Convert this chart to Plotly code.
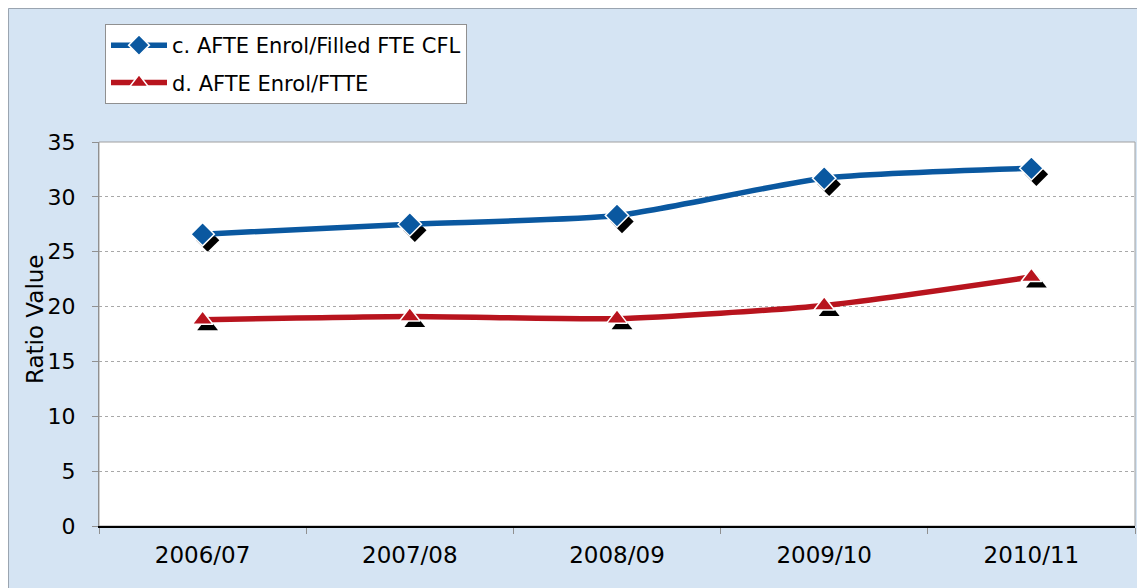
import plotly.graph_objects as go

categories = ["2006/07", "2007/08", "2008/09", "2009/10", "2010/11"]
filled_fte_cfl = [26.6, 27.5, 28.3, 31.7, 32.6]
fte_ratio = [18.8, 19.1, 18.9, 20.1, 22.7]
series_names = ["c. AFTE Enrol/Filled FTE CFL", "d. AFTE Enrol/FTTE"]
y_ticks = [0, 5, 10, 15, 20, 25, 30, 35]
y_title = "Ratio Value"

BLUE = "#0a58a0"
RED = "#b8141e"
FONT = "DejaVu Sans, Arial, sans-serif"

W_PLOT = 1041
H_PLOT = 390
SX, SY = 5, 6
DX = SX / W_PLOT
DY = SY / H_PLOT
PAPER_W, PAPER_H = 1137, 580
ML, MT = 91, 134

fig = go.Figure()

# shadows (subplot xy, drawn first)
for vals, sym in [(filled_fte_cfl, "diamond"), (fte_ratio, "triangle-up")]:
    fig.add_trace(go.Scatter(
        x=categories, y=vals, mode="markers", xaxis="x", yaxis="y",
        marker=dict(symbol=sym, size=18, color="black"),
        showlegend=False, hoverinfo="skip"))

fig.add_trace(go.Scatter(
    x=categories, y=filled_fte_cfl, name=series_names[0], mode="lines+markers",
    xaxis="x2", yaxis="y2", legendgroup="a",
    line=dict(color=BLUE, width=5.5, shape="spline", smoothing=0.6),
    marker=dict(symbol="diamond", size=18, color=BLUE, line=dict(color="white", width=1.5))))
fig.add_trace(go.Scatter(
    x=categories, y=fte_ratio, name=series_names[1], mode="lines+markers",
    xaxis="x2", yaxis="y2", legendgroup="b",
    line=dict(color=RED, width=5.5, shape="spline", smoothing=0.6),
    marker=dict(symbol="triangle-up", size=18, color=RED, line=dict(color="white", width=1.5))))

fig.update_layout(
    width=PAPER_W, height=PAPER_H,
    margin=dict(l=ML, r=PAPER_W - ML - W_PLOT, t=MT, b=PAPER_H - MT - H_PLOT),
    paper_bgcolor="#d5e4f3",
    plot_bgcolor="rgba(0,0,0,0)",
    font=dict(family=FONT, size=22, color="black"),
    xaxis=dict(type="category", domain=[DX, 1], anchor="y", range=[-0.5, 4.5],
               visible=False, showgrid=False),
    yaxis=dict(domain=[0, 1 - DY], anchor="x", range=[0, 35], visible=False, showgrid=False),
    xaxis2=dict(type="category", domain=[0, 1 - DX], anchor="y2", range=[-0.5, 4.5],
                showgrid=False, showline=True, linecolor="black", linewidth=1.5,
                ticks="outside", tickson="boundaries", ticklen=6, tickcolor="#909090",
                tickfont=dict(size=23), zeroline=False, ticklabelstandoff=8),
    yaxis2=dict(domain=[DY, 1], anchor="x2", range=[0, 35], tickvals=y_ticks,
                showgrid=True, gridcolor="#a8a8a8", gridwidth=1, griddash="dot",
                showline=True, linecolor="#909090", linewidth=1,
                ticks="outside", ticklen=6, tickcolor="#909090",
                tickfont=dict(size=22), zeroline=False, ticklabelstandoff=12),
    annotations=[dict(text=y_title, textangle=-90, xref="paper", yref="paper",
                      x=(35 - 8 - ML) / W_PLOT, y=(MT + H_PLOT - (319 - 8)) / H_PLOT,
                      xanchor="center", yanchor="middle", showarrow=False,
                      font=dict(size=23))],
    legend=dict(x=(105 - 8 - ML) / W_PLOT, y=(MT + H_PLOT - (24 - 8)) / H_PLOT,
                xanchor="left", yanchor="top",
                bgcolor="white", bordercolor="#909090", borderwidth=1,
                font=dict(size=21), tracegroupgap=7, itemwidth=56),
    shapes=[
        dict(type="rect", xref="paper", yref="paper", x0=0, x1=1 - DX, y0=DY, y1=1,
             fillcolor="white", line=dict(width=0), layer="below"),
        dict(type="rect", xref="paper", yref="paper", x0=0, x1=1 - DX, y0=DY, y1=1,
             fillcolor="rgba(0,0,0,0)", line=dict(color="#a0a0a0", width=1), layer="below"),
        dict(type="rect", xref="paper", yref="paper", x0=-ML / W_PLOT + 0.0005, x1=1.2,
             y0=-0.5, y1=(MT + H_PLOT - 0.5) / H_PLOT, fillcolor="rgba(0,0,0,0)",
             line=dict(color="#9aa4b0", width=1), layer="below"),
    ],
)

fig.write_html("out.html")
